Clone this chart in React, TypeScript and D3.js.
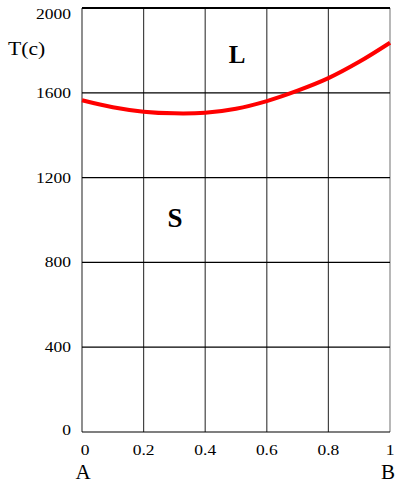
import React from "react";
import * as d3 from "d3";

// Composition (mole fraction of B) and liquidus/solidus temperature
const compX = [0, 0.1, 0.2, 0.3, 0.4, 0.5, 0.6, 0.7, 0.8, 0.9, 1.0];
const tempC = [1565, 1532, 1511, 1503, 1506, 1525, 1561, 1610, 1669, 1746, 1836];

const xTicks = [0, 0.2, 0.4, 0.6, 0.8, 1];
const xTickLabels = ["0", "0.2", "0.4", "0.6", "0.8", "1"];
const yTicks = [0, 400, 800, 1200, 1600, 2000];
const yTickLabels = ["0", "400", "800", "1200", "1600", "2000"];

const W = 395;
const H = 484;
const serif = "'Liberation Serif', 'Times New Roman', serif";

export default function App() {
  const x = d3.scaleLinear().domain([0, 1]).range([82, 390]);
  const y = d3.scaleLinear().domain([0, 2000]).range([432, 8]);
  const pts = compX.map((c, i) => [c, tempC[i]] as [number, number]);
  const line = d3
    .line<[number, number]>()
    .x((d) => x(d[0]))
    .y((d) => y(d[1]))
    .curve(d3.curveCatmullRom.alpha(0.5));

  return (
    <svg
      width={W}
      height={H}
      style={{ position: "absolute", left: 0, top: 0, background: "#fff" }}
    >
      {/* vertical grid */}
      {xTicks.map((t) => (
        <line
          key={"vx" + t}
          x1={x(t)}
          x2={x(t)}
          y1={y(2000)}
          y2={y(0)}
          stroke={t === 1 ? "#888" : "#444"}
          strokeWidth={1.2}
        />
      ))}
      {/* horizontal grid */}
      {yTicks.map((t) => (
        <line
          key={"hy" + t}
          x1={x(0)}
          x2={x(1)}
          y1={y(t)}
          y2={y(t)}
          stroke="#000"
          strokeWidth={t === 2000 ? 2 : 1.2}
        />
      ))}
      {/* curve */}
      <path d={line(pts) || ""} fill="none" stroke="#ff0000" strokeWidth={4} />

      {/* y tick labels */}
      {yTicks.map((t, i) => {
        const by = Math.max(y(t) + 5, 18.5) - (t === 0 ? 2 : 0);
        return (
          <text
            key={"yl" + t}
            transform={`translate(71,${by}) scale(1.25,1)`}
            textAnchor="end"
            fontFamily={serif}
            fontSize={14}
            fill="#000"
          >
            {yTickLabels[i]}
          </text>
        );
      })}
      {/* x tick labels */}
      {xTicks.map((t, i) => (
        <text
          key={"xl" + t}
          transform={`translate(${x(t) + (t === 0 ? 3 : 0)},454.5) scale(1.25,1)`}
          textAnchor="middle"
          fontFamily={serif}
          fontSize={14}
          fill="#000"
        >
          {xTickLabels[i]}
        </text>
      ))}
      {/* axis title */}
      <text
        transform="translate(8,55) scale(1.2,1)"
        fontFamily={serif}
        fontSize={18}
        fill="#000"
      >
        T(c)
      </text>
      {/* component labels */}
      <text x={83} y={479} textAnchor="middle" fontFamily={serif} fontSize={21} fill="#000">
        A
      </text>
      <text x={395} y={479} textAnchor="end" fontFamily={serif} fontSize={21} fill="#000">
        B
      </text>
      {/* phase region labels */}
      <text x={237} y={63} textAnchor="middle" fontFamily={serif} fontSize={25} fontWeight="bold" fill="#000">
        L
      </text>
      <text x={175} y={227} textAnchor="middle" fontFamily={serif} fontSize={27} fontWeight="bold" fill="#000">
        S
      </text>
    </svg>
  );
}
